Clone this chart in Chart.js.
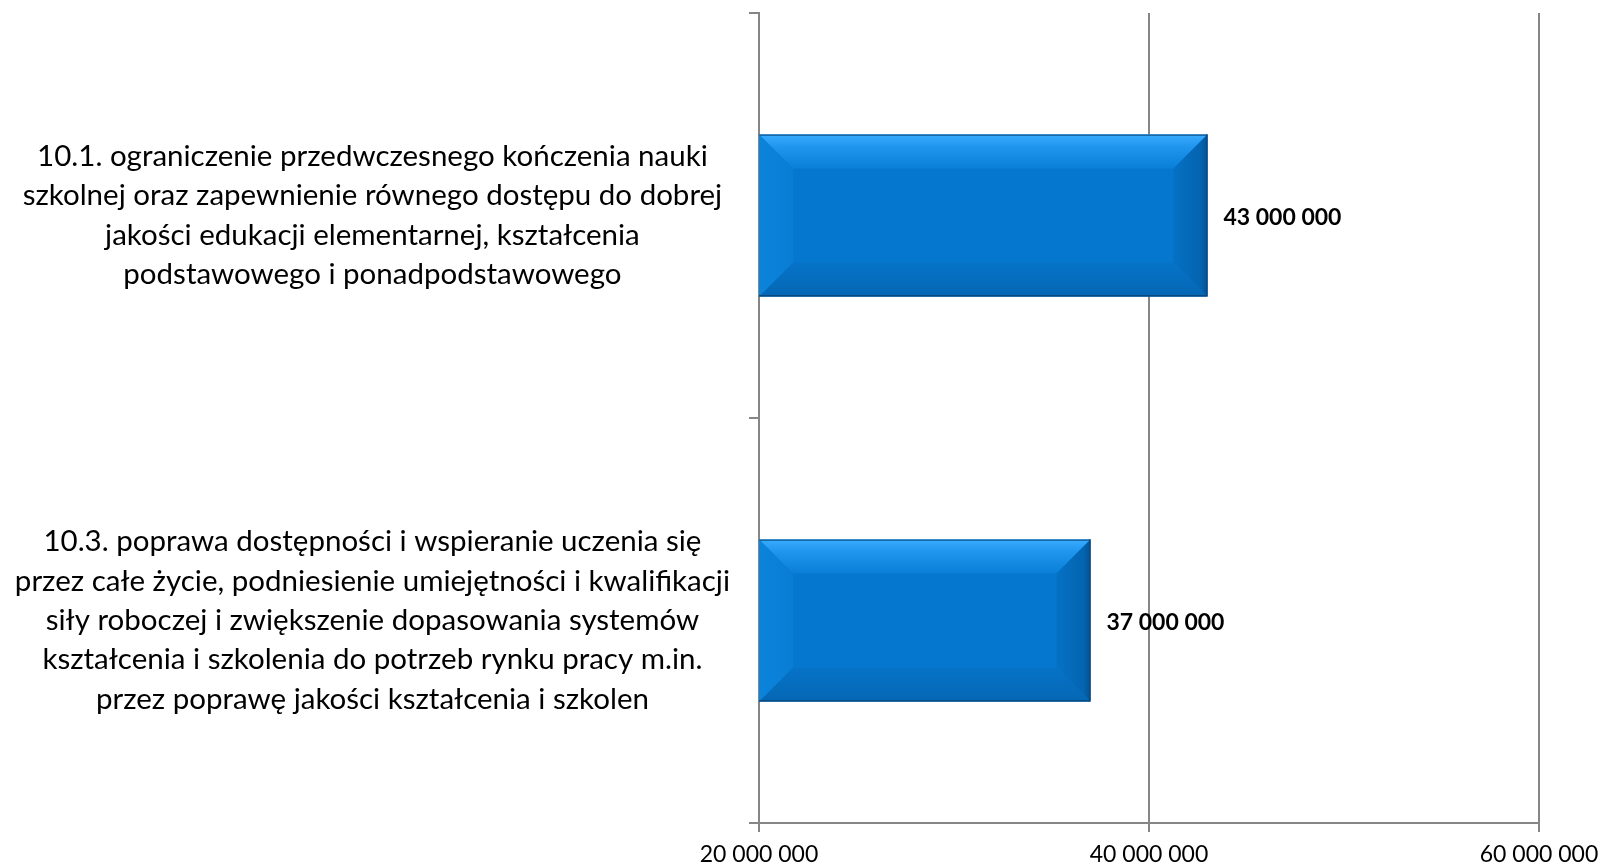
<!DOCTYPE html>
<html>
<head>
<meta charset="utf-8">
<script src="https://cdn.jsdelivr.net/npm/chart.js@4/dist/chart.umd.min.js"></script>
<style>
  html, body { margin: 0; padding: 0; background: #ffffff; }
  #wrap { width: 1601px; height: 867px; }
</style>
</head>
<body>
<div id="wrap"><canvas id="chart"></canvas></div>
<script>
// categories (multi-line, as in the picture)
const categories = [
  ["10.1. ograniczenie przedwczesnego kończenia nauki",
   "szkolnej oraz zapewnienie równego dostępu do dobrej",
   "jakości edukacji elementarnej, kształcenia",
   "podstawowego i ponadpodstawowego"],
  ["10.3. poprawa dostępności i wspieranie uczenia się",
   "przez całe życie, podniesienie umiejętności i kwalifikacji",
   "siły roboczej i zwiększenie dopasowania systemów",
   "kształcenia i szkolenia do potrzeb rynku pracy m.in.",
   "przez poprawę jakości kształcenia i szkolen"]
];
const values = [43000000, 37000000];

const axisMin = 20000000;
const axisMax = 60000000;
const axisStep = 20000000;

const fmt = (v) => String(v).replace(/\B(?=(\d{3})+(?!\d))/g, " ");
const GRID = "#868686";
const FONT = "Lato, 'Noto Sans', sans-serif";

// ==============================
// Bevelled bar look + value labels
// ==============================
const bevelPlugin = {
  id: "bevel",
  afterDatasetsDraw(chart) {
    const ctx = chart.ctx;
    const area = chart.chartArea;
    const meta = chart.getDatasetMeta(0);
    meta.data.forEach((bar, i) => {
      const p = bar.getProps(["x", "y", "base", "height"], true);
      const l = Math.max(Math.min(p.base, p.x), area.left);
      const r = Math.max(p.base, p.x);
      const t = p.y - p.height / 2;
      const b = p.y + p.height / 2;
      const s = Math.min(34, (r - l) / 2, p.height / 2);

      ctx.save();
      // top
      let g = ctx.createLinearGradient(0, t, 0, t + s);
      g.addColorStop(0, "#38acff");
      g.addColorStop(0.35, "#2196ee");
      g.addColorStop(1, "#0a7fd8");
      ctx.fillStyle = g;
      ctx.beginPath();
      ctx.moveTo(l, t); ctx.lineTo(r, t); ctx.lineTo(r - s, t + s); ctx.lineTo(l + s, t + s); ctx.closePath();
      ctx.fill();
      // bottom
      g = ctx.createLinearGradient(0, b - s, 0, b);
      g.addColorStop(0, "#0673c8");
      g.addColorStop(1, "#0567b4");
      ctx.fillStyle = g;
      ctx.beginPath();
      ctx.moveTo(l, b); ctx.lineTo(r, b); ctx.lineTo(r - s, b - s); ctx.lineTo(l + s, b - s); ctx.closePath();
      ctx.fill();
      // left
      g = ctx.createLinearGradient(l, 0, l + s, 0);
      g.addColorStop(0, "#0c84dc");
      g.addColorStop(1, "#097dd4");
      ctx.fillStyle = g;
      ctx.beginPath();
      ctx.moveTo(l, t); ctx.lineTo(l + s, t + s); ctx.lineTo(l + s, b - s); ctx.lineTo(l, b); ctx.closePath();
      ctx.fill();
      // right
      g = ctx.createLinearGradient(r - s, 0, r, 0);
      g.addColorStop(0, "#0571c4");
      g.addColorStop(0.8, "#0464b0");
      g.addColorStop(1, "#035392");
      ctx.fillStyle = g;
      ctx.beginPath();
      ctx.moveTo(r, t); ctx.lineTo(r - s, t + s); ctx.lineTo(r - s, b - s); ctx.lineTo(r, b); ctx.closePath();
      ctx.fill();
      // outline
      ctx.lineWidth = 1.5;
      ctx.strokeStyle = "#1a67a8";
      ctx.beginPath(); ctx.moveTo(l, t + 0.75); ctx.lineTo(r, t + 0.75); ctx.stroke();
      ctx.strokeStyle = "#0b4a80";
      ctx.beginPath(); ctx.moveTo(r - 0.75, t); ctx.lineTo(r - 0.75, b - 0.75); ctx.lineTo(l, b - 0.75); ctx.stroke();

      // value label
      ctx.fillStyle = "#000000";
      ctx.font = "bold 23px " + FONT;
      ctx.textAlign = "left";
      ctx.textBaseline = "middle";
      ctx.fillText(fmt(values[i]), r + 16, p.y + 2);
      ctx.restore();
    });
  }
};

new Chart(document.getElementById("chart"), {
  type: "bar",
  data: {
    labels: categories,
    datasets: [{
      data: values,
      backgroundColor: "#0677ce",
      borderWidth: 0,
      categoryPercentage: 1.0,
      barPercentage: 0.4
    }]
  },
  options: {
    indexAxis: "y",
    responsive: true,
    maintainAspectRatio: false,
    animation: false,
    layout: { padding: { top: 13, left: 0, right: 0, bottom: 0 } },
    plugins: {
      legend: { display: false },
      tooltip: { enabled: false }
    },
    scales: {
      x: {
        min: axisMin,
        max: axisMax,
        afterFit: (scale) => {
          scale.height = 44;
          scale.paddingRight = 62;
        },
        ticks: {
          stepSize: axisStep,
          color: "#000000",
          padding: 9,
          font: { family: FONT, size: 23 },
          callback: (v) => fmt(v)
        },
        grid: { color: GRID, lineWidth: 2, tickLength: 9, drawTicks: true },
        border: { display: true, color: GRID, width: 2 }
      },
      y: {
        afterFit: (scale) => {
          scale.width = 759;
          scale.paddingTop = 0;
          scale.paddingBottom = 0;
        },
        ticks: {
          color: "#000000",
          crossAlign: "center",
          padding: 19,
          font: { family: FONT, size: 29.5, lineHeight: 1.335 }
        },
        grid: { color: GRID, lineWidth: 2, tickLength: 10, drawOnChartArea: false, drawTicks: true, offset: true },
        border: { display: true, color: GRID, width: 2 }
      }
    }
  },
  plugins: [bevelPlugin]
});
</script>
</body>
</html>
